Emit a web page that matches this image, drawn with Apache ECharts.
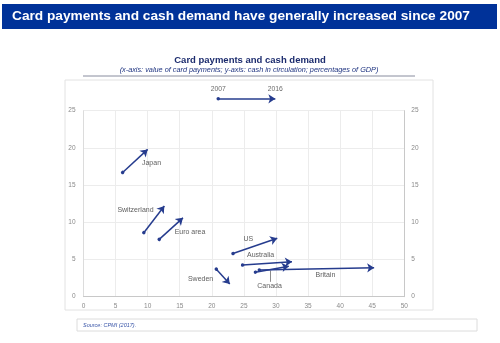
<!DOCTYPE html>
<html>
<head>
<meta charset="utf-8">
<script src="https://cdn.jsdelivr.net/npm/echarts@6/dist/echarts.min.js"></script>
<style>
  html, body { margin: 0; padding: 0; background: #fff; }
  #chart { width: 500px; height: 343px; }
</style>
</head>
<body>
<div id="chart"></div>
<script>
// Card payments (x) and cash in circulation (y), % of GDP: 2007 -> 2016
var countries   = ['Japan', 'Switzerland', 'Euro area', 'US', 'Australia', 'Canada', 'Britain', 'Sweden'];
var card2007    = [6.1, 9.4, 11.8, 23.3, 24.8, 26.8, 27.4, 20.7];
var cash2007    = [16.7, 8.6, 7.7, 5.8, 4.25, 3.3, 3.6, 3.7];
var card2016    = [10.0, 12.6, 15.5, 30.2, 32.5, 32.0, 45.3, 22.8];
var cash2016    = [19.8, 12.2, 10.6, 7.85, 4.7, 4.1, 3.9, 1.7];

// where each country name sits (data units)
var labelX      = [10.6, 8.1, 16.6, 25.7, 27.6, 29.0, 37.7, 18.25];
var labelY      = [18.0, 11.65, 8.65, 7.75, 5.56, 1.44, 2.96, 2.38];

// key arrow above the plot
var keyYears    = ['2007', '2016'];
var keyX        = [21.0, 29.9];
var keyY        = 26.6;

// leader line from the Canada label to its arrow
var canadaLeaderX = 29.15;
var canadaLeaderY = [2.0, 3.5];

var xTicks = { min: 0, max: 50, interval: 5 };
var yTicks = { min: 0, max: 25, interval: 5 };

var navy = '#263c8e';
var font = 'Liberation Sans, Arial, sans-serif';

var arrowData = countries.map(function (c, i) {
  return { name: c, coords: [[card2007[i], cash2007[i]], [card2016[i], cash2016[i]]] };
});
var labelData = countries.map(function (c, i) {
  return { name: c, value: [labelX[i], labelY[i]] };
});

var chart = echarts.init(document.getElementById('chart'), null, { renderer: 'canvas' });

var axisLabelStyle = { color: '#8a8a8a', fontSize: 6.5, fontFamily: font };

chart.setOption({
  animation: false,
  backgroundColor: '#ffffff',
  grid: { left: 83.5, right: 95.7, top: 110.7, bottom: 46.3, containLabel: false },
  xAxis: {
    type: 'value', min: xTicks.min, max: xTicks.max, interval: xTicks.interval,
    axisLine: { show: true, onZero: false, lineStyle: { color: '#c8c8c8', width: 1 } },
    axisTick: { show: false },
    axisLabel: Object.assign({ margin: 6 }, axisLabelStyle),
    splitLine: { show: true, lineStyle: { color: '#ececec', width: 1 } }
  },
  yAxis: [
    {
      type: 'value', min: yTicks.min, max: yTicks.max, interval: yTicks.interval, position: 'left',
      axisLine: { show: true, lineStyle: { color: '#dcdcdc', width: 1 } },
      axisTick: { show: false },
      axisLabel: Object.assign({ margin: 8 }, axisLabelStyle),
      splitLine: { show: true, lineStyle: { color: '#ececec', width: 1 } }
    },
    {
      type: 'value', min: yTicks.min, max: yTicks.max, interval: yTicks.interval, position: 'right',
      axisLine: { show: true, lineStyle: { color: '#c8c8c8', width: 1 } },
      axisTick: { show: false },
      axisLabel: Object.assign({ margin: 7 }, axisLabelStyle),
      splitLine: { show: false }
    }
  ],
  graphic: [
    // banner
    { type: 'rect', shape: { x: 2, y: 4, width: 495, height: 25 }, style: { fill: '#003299' }, z: 10 },
    { type: 'text', x: 12, y: 16.5, style: { text: 'Card payments and cash demand have generally increased since 2007',
      fill: '#ffffff', font: 'bold 13.7px ' + font, textVerticalAlign: 'middle' }, z: 11 },
    // chart heading
    { type: 'text', x: 250, y: 60, style: { text: 'Card payments and cash demand', fill: '#1c2c6e',
      font: 'bold 9.5px ' + font, textAlign: 'center', textVerticalAlign: 'middle' }, z: 11 },
    { type: 'text', x: 249, y: 70, style: { text: '(x-axis: value of card payments; y-axis: cash in circulation; percentages of GDP)',
      fill: '#1f3480', font: 'italic 7.3px ' + font, textAlign: 'center', textVerticalAlign: 'middle' }, z: 11 },
    { type: 'line', shape: { x1: 83, y1: 76, x2: 415, y2: 76 }, style: { stroke: '#6a6f86', lineWidth: 0.8 }, z: 11 },
    // frame around the plot panel
    { type: 'rect', shape: { x: 65, y: 80, width: 368, height: 230 }, style: { fill: 'none', stroke: '#e2e2e2', lineWidth: 1 }, z: 0 },
    // source box
    { type: 'rect', shape: { x: 77, y: 319, width: 400, height: 12 }, style: { fill: 'none', stroke: '#dcdcdc', lineWidth: 1 }, z: 0 },
    { type: 'text', x: 83, y: 325, style: { text: 'Source: CPMI (2017).', fill: '#3a56a8',
      font: 'italic 5.5px ' + font, textVerticalAlign: 'middle' }, z: 11 }
  ],
  series: [
    {
      name: 'change 2007-2016',
      type: 'lines',
      coordinateSystem: 'cartesian2d',
      symbol: ['circle', 'arrow'],
      symbolSize: [3.5, 7],
      lineStyle: { color: navy, width: 1.5, opacity: 1, curveness: 0 },
      data: arrowData,
      z: 5
    },
    {
      name: 'key',
      type: 'lines',
      coordinateSystem: 'cartesian2d',
      clip: false,
      symbol: ['circle', 'arrow'],
      symbolSize: [3.5, 7],
      lineStyle: { color: navy, width: 1.5, opacity: 1 },
      data: [{ coords: [[keyX[0], keyY], [keyX[1], keyY]] }],
      z: 5
    },
    {
      name: 'key years',
      type: 'scatter',
      clip: false,
      symbolSize: 0,
      silent: true,
      label: { show: true, position: 'inside', offset: [0, -10], formatter: '{b}',
        color: '#444', fontSize: 6.8, fontFamily: font },
      data: keyYears.map(function (y, i) { return { name: y, value: [keyX[i], keyY] }; })
    },
    {
      name: 'leader',
      type: 'lines',
      coordinateSystem: 'cartesian2d',
      symbol: ['none', 'none'],
      lineStyle: { color: '#8c8c8c', width: 1, opacity: 1 },
      data: [{ coords: [[canadaLeaderX, canadaLeaderY[0]], [canadaLeaderX, canadaLeaderY[1]]] }],
      z: 3
    },
    {
      name: 'country names',
      type: 'scatter',
      symbolSize: 0,
      silent: true,
      label: { show: true, position: 'inside', formatter: '{b}', color: '#333', fontSize: 7, fontFamily: font },
      data: labelData,
      z: 6
    }
  ]
});
</script>
</body>
</html>
